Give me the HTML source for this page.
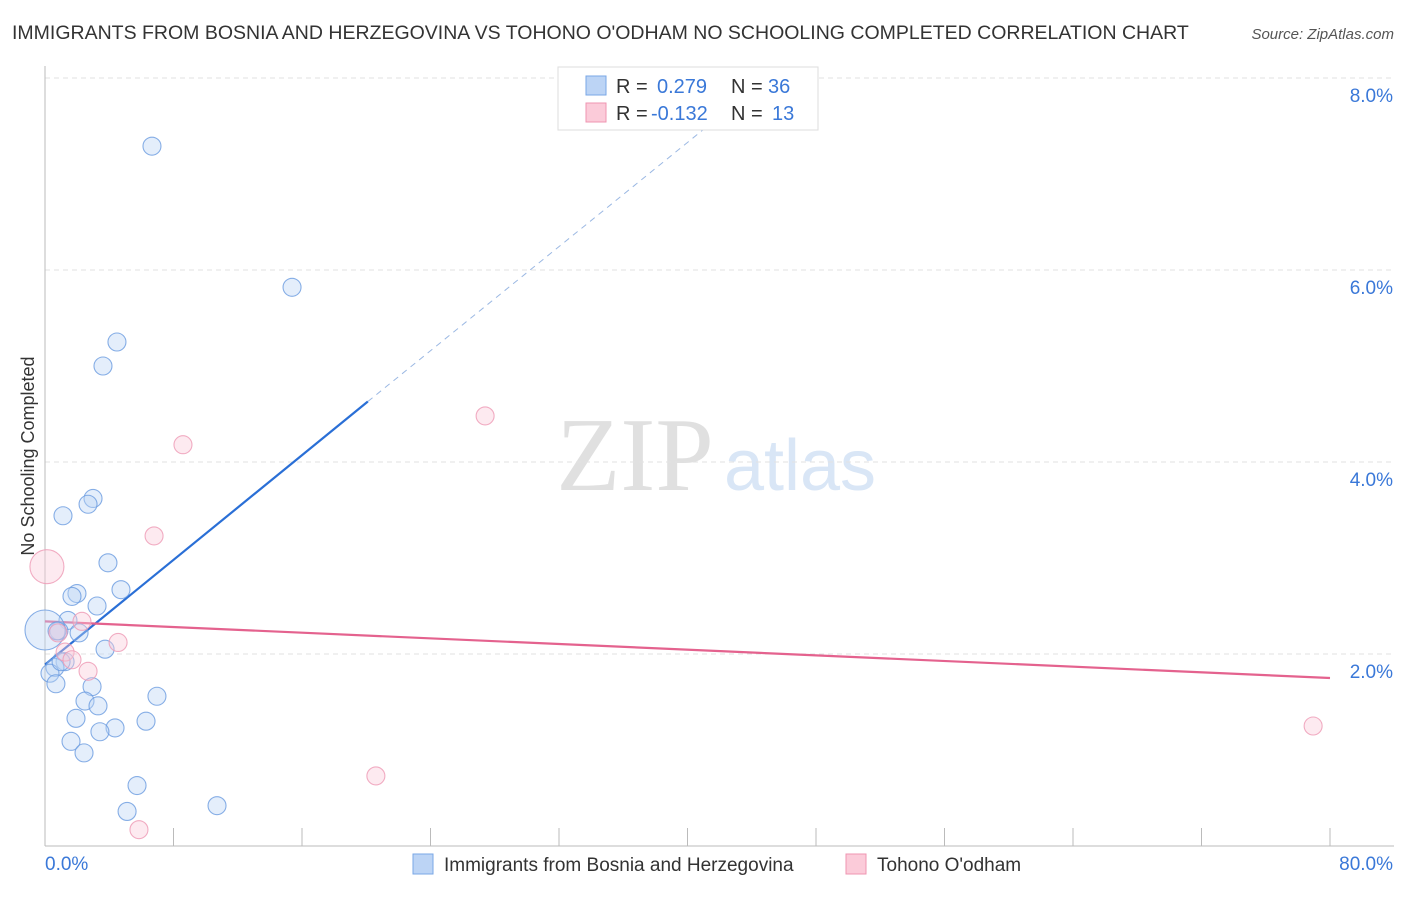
<!DOCTYPE html>
<html><head><meta charset="utf-8"><style>
body{margin:0;background:#fff;font-family:"Liberation Sans",sans-serif;}
svg text{font-family:"Liberation Sans",sans-serif;}
</style></head><body>
<svg id="chart" width="1406" height="892" xmlns="http://www.w3.org/2000/svg">
<text x="12" y="39" font-size="19.5" fill="#333">IMMIGRANTS FROM BOSNIA AND HERZEGOVINA VS TOHONO O'ODHAM NO SCHOOLING COMPLETED CORRELATION CHART</text>
<text x="1394" y="39" font-size="15" fill="#555" font-style="italic" text-anchor="end">Source: ZipAtlas.com</text>
<g>
<text x="635" y="490" font-size="105" fill="#e0e0e0" text-anchor="middle" style="font-family:'Liberation Serif',serif">ZIP</text>
<text x="800" y="490" font-size="72" fill="#d9e6f6" text-anchor="middle">atlas</text>
</g>
<g id="grid"></g>
<g id="axes"></g>
<g id="lines"></g>
<g id="pts"></g>
<text transform="translate(34,456) rotate(-90)" font-size="18" fill="#333" text-anchor="middle">No Schooling Completed</text>
<g>
<rect x="558" y="67" width="260" height="63" fill="#fff" stroke="#ddd"/>
<rect x="586" y="76" width="20" height="19" fill="#bcd4f5" stroke="#7aa7e6"/>
<rect x="586" y="103" width="20" height="19" fill="#fbcbd9" stroke="#ef94b1"/>
<text x="616" y="93" font-size="20" fill="#333">R = </text><text x="657" y="93" font-size="20" fill="#3a78d8">0.279</text>
<text x="731" y="93" font-size="20" fill="#333">N = </text><text x="768" y="93" font-size="20" fill="#3a78d8">36</text>
<text x="616" y="120" font-size="20" fill="#333">R = </text><text x="651" y="120" font-size="20" fill="#3a78d8">-0.132</text>
<text x="731" y="120" font-size="20" fill="#333">N = </text><text x="772" y="120" font-size="20" fill="#3a78d8">13</text>
</g>
<g>
<rect x="413" y="854" width="20" height="20" fill="#bcd4f5" stroke="#7aa7e6"/>
<text x="444" y="871" font-size="19" fill="#333">Immigrants from Bosnia and Herzegovina</text>
<rect x="846" y="854" width="20" height="20" fill="#fbcbd9" stroke="#ef94b1"/>
<text x="877" y="871" font-size="19" fill="#333">Tohono O'odham</text>
</g>
</svg>
<script>
const xTicks=[0,8,16,24,32,40,48,56,64,72,80];
const yTicks=[2,4,6,8];
const blueX=[6.66,15.38,4.48,3.61,2.99,2.68,1.12,3.92,4.73,1.99,1.68,3.24,1.43,0.87,2.12,0.0,3.74,1.25,0.62,0.31,0.68,2.93,6.97,2.49,3.30,1.93,6.29,4.36,3.42,1.62,2.43,5.73,5.11,10.71,0.75,1.0];
const blueY=[7.29,5.82,5.25,5.0,3.62,3.56,3.44,2.95,2.67,2.63,2.60,2.50,2.35,2.24,2.22,2.25,2.05,1.92,1.86,1.80,1.69,1.66,1.56,1.51,1.46,1.33,1.30,1.23,1.19,1.09,0.97,0.63,0.36,0.42,2.24,1.92];
const blueR=[9,9,9,9,9,9,9,9,9,9,9,9,9,9,9,20,9,9,9,9,9,9,9,9,9,9,9,9,9,9,9,9,9,9,9,9];
const pinkX=[0.12,8.59,27.4,6.79,4.55,2.30,0.81,1.25,1.68,2.68,20.6,5.85,78.95];
const pinkY=[2.91,4.18,4.48,3.23,2.12,2.34,2.22,2.02,1.94,1.82,0.73,0.17,1.25];
const pinkR=[17,9,9,9,9,9,9,9,9,9,9,9,9];
const blueTrend=[[0,1.89],[20.1,4.63],[42,7.60]];
const pinkTrend=[[0,2.34],[80,1.75]];
const X0=45,X1=1330,Y0=846,PY=96;
const sx=v=>X0+(v/80)*(X1-X0);
const sy=v=>Y0-v*PY;
const NS="http://www.w3.org/2000/svg";
function mk(t,a,p){const e=document.createElementNS(NS,t);for(const k in a)e.setAttribute(k,a[k]);p.appendChild(e);return e;}
const grid=document.getElementById('grid'),axes=document.getElementById('axes'),lines=document.getElementById('lines'),pts=document.getElementById('pts');
yTicks.forEach(v=>{const l=mk('line',{x1:45,x2:1394,y1:sy(v),y2:sy(v),stroke:'#e2e2e2','stroke-dasharray':'5,4'},grid);


const t=mk('text',{x:1393,y:sy(v)+24,'font-size':19,fill:'#3a78d8','text-anchor':'end'},axes);t.textContent=v.toFixed(1)+'%';

});
const ax=mk('line',{x1:45,x2:1394,y1:846,y2:846,stroke:'#bbb'},axes);


const ay=mk('line',{x1:45,x2:45,y1:66,y2:846,stroke:'#bbb'},axes);


xTicks.forEach(v=>{const l=mk('line',{x1:sx(v),x2:sx(v),y1:828,y2:846,stroke:'#bbb'},axes);

});
[[0,'start',45],[80,'end',1393]].forEach(([v,a,x])=>{const t=mk('text',{x:x,y:870,'font-size':19,fill:'#3a78d8','text-anchor':a},axes);t.textContent=v.toFixed(1)+'%';

});
function dots(xs,ys,rs,fill,stroke,name){xs.forEach((x,i)=>{const c=mk('circle',{cx:sx(x),cy:sy(ys[i]),r:rs[i],fill:fill,'fill-opacity':0.4,stroke:stroke,'stroke-opacity':0.8,'stroke-width':1.1},pts);

});}
dots(blueX,blueY,blueR,'#bcd4f5','#6a9be0','bosnia-point');
dots(pinkX,pinkY,pinkR,'#fbcbd9','#ee98b4','tohono-point');
const b1=mk('line',{x1:sx(blueTrend[0][0]),y1:sy(blueTrend[0][1]),x2:sx(blueTrend[1][0]),y2:sy(blueTrend[1][1]),stroke:'#2a6fd6','stroke-width':2.2},lines);


const b2=mk('line',{x1:sx(blueTrend[1][0]),y1:sy(blueTrend[1][1]),x2:sx(blueTrend[2][0]),y2:sy(blueTrend[2][1]),stroke:'#9bb8e3','stroke-width':1,'stroke-dasharray':'6,5'},lines);


const p1=mk('line',{x1:sx(pinkTrend[0][0]),y1:sy(pinkTrend[0][1]),x2:sx(pinkTrend[1][0]),y2:sy(pinkTrend[1][1]),stroke:'#e4628e','stroke-width':2.2},lines);


</script>
</body></html>
